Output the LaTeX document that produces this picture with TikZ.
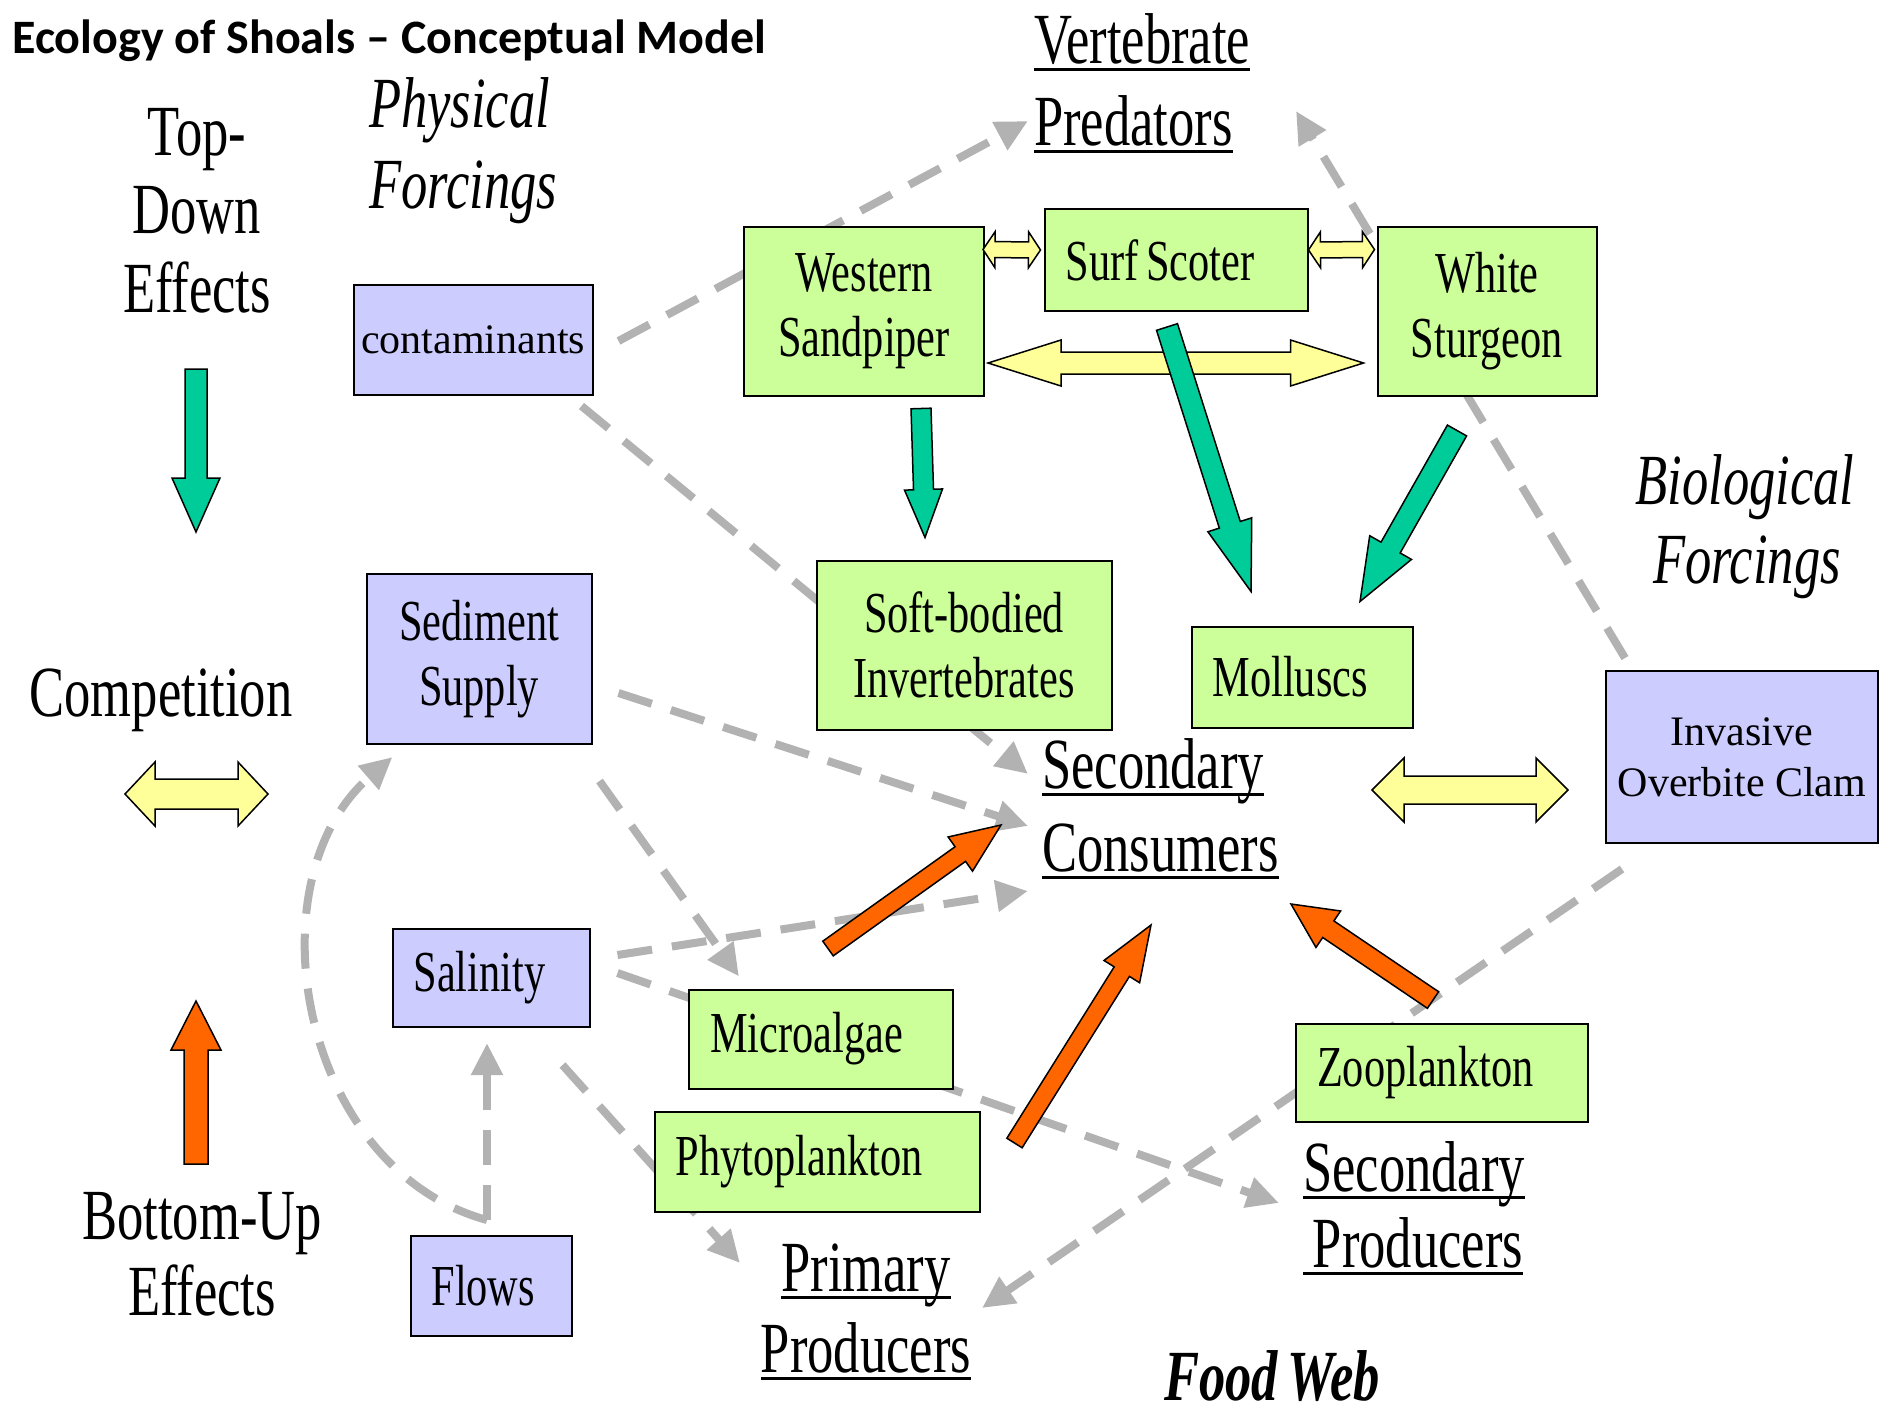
\documentclass[tikz,border=0pt]{standalone}
\usepackage{fontspec}
\setmainfont{Liberation Serif}
\newfontfamily\narrowfont[FakeStretch=0.73, WordSpace=0.73]{Liberation Serif}
\newfontfamily\titlefont{Carlito}
\usetikzlibrary{calc,arrows.meta,backgrounds}

\definecolor{boxgreen}{RGB}{204,255,153}
\definecolor{boxblue}{RGB}{204,204,255}
\definecolor{topgreen}{RGB}{0,204,153}
\definecolor{botorange}{RGB}{255,102,0}
\definecolor{compyellow}{RGB}{255,255,153}
\definecolor{linkgray}{RGB}{178,178,178}

\newcommand{\biglabel}{\narrowfont\fontsize{72}{80}\selectfont}
\newcommand{\boxlabel}{\narrowfont\fontsize{58}{65}\selectfont}
\newcommand{\plainlabel}{\fontsize{42}{51}\selectfont}
\newcommand{\ulword}[1]{\setbox0=\hbox{#1}\rlap{\rule[-8pt]{\wd0}{3pt}}\box0}

% block arrow: fill, start, tip, half shaft, half head, head length
\newcommand{\fatarrow}[6]{%
  \coordinate (fa-s) at #2;
  \coordinate (fa-e) at #3;
  \coordinate (fa-h) at ($(fa-e)!#6!(fa-s)$);
  \draw[fat, fill=#1] ($(fa-s)!#4!90:(fa-e)$) -- ($(fa-h)!#4!90:(fa-e)$)
    -- ($(fa-h)!#5!90:(fa-e)$) -- (fa-e) -- ($(fa-h)!#5!-90:(fa-e)$)
    -- ($(fa-h)!#4!-90:(fa-e)$) -- ($(fa-s)!#4!-90:(fa-e)$) -- cycle;}

% double block arrow, same arguments
\newcommand{\dblarrow}[6]{%
  \coordinate (da-s) at #2;
  \coordinate (da-e) at #3;
  \coordinate (da-hs) at ($(da-s)!#6!(da-e)$);
  \coordinate (da-he) at ($(da-e)!#6!(da-s)$);
  \draw[fat, fill=#1] (da-s) -- ($(da-hs)!#5!90:(da-e)$) -- ($(da-hs)!#4!90:(da-e)$)
    -- ($(da-he)!#4!90:(da-e)$) -- ($(da-he)!#5!90:(da-e)$) -- (da-e)
    -- ($(da-he)!#5!-90:(da-e)$) -- ($(da-he)!#4!-90:(da-e)$)
    -- ($(da-hs)!#4!-90:(da-e)$) -- ($(da-hs)!#5!-90:(da-e)$) -- cycle;}

\begin{document}
\begin{tikzpicture}[x=1pt, y=-1pt,
    gbox/.style={draw, line width=2pt, fill=boxgreen, inner sep=2pt, align=center, font=\boxlabel},
    bbox/.style={draw, line width=2pt, fill=boxblue, inner sep=2pt, align=center, font=\boxlabel},
    lefttext/.style={align=flush left, inner xsep=21pt},
    lbl/.style={inner sep=0pt, font=\biglabel},
    fat/.style={draw=black, line width=1.5pt, line join=miter},
    link/.style={draw=linkgray, line width=8pt, dash pattern=on 35pt off 20pt,
      -{Triangle[length=32pt,width=30pt]}}]
    \useasboundingbox (0,0) rectangle (1896,1414);

    % title
    \node[anchor=base west, inner sep=0pt, font=\titlefont\bfseries\fontsize{48}{52}\selectfont]
      (title) at (12,53) {Ecology of Shoals – Conceptual Model};

    % side labels
    \node[lbl, anchor=base] (td1) at (197,155) {Top-};
    \node[lbl, anchor=base] (td2) at (197,233) {Down};
    \node[lbl, anchor=base] (td3) at (197,312) {Effects};
    \node[lbl, anchor=base] (comp) at (161,716) {Competition};
    \node[lbl, anchor=base] (bu1) at (202,1239) {Bottom-Up};
    \node[lbl, anchor=base] (bu2) at (202,1315) {Effects};
    \node[lbl, font=\biglabel\itshape, anchor=base west] (pf1) at (369,127) {Physical};
    \node[lbl, font=\biglabel\itshape, anchor=base west] (pf2) at (369,208) {Forcings};
    \node[lbl, font=\biglabel\itshape, anchor=base] (bf1) at (1745,504) {Biological};
    \node[lbl, font=\biglabel\itshape, anchor=base] (bf2) at (1747,583) {Forcings};
    \node[lbl, font=\biglabel\bfseries\itshape, anchor=base] (fw) at (1272,1400) {Food Web};

    % trophic levels
    \node[lbl, anchor=base west] (pd1) at (1034,63) {\ulword{Vertebrate}};
    \node[lbl, anchor=base west] (pd2) at (1034,145) {\ulword{Predators}};
    \node[lbl, anchor=base west] (sc1) at (1042,788) {\ulword{Secondary}};
    \node[lbl, anchor=base west] (sc2) at (1042,871) {\ulword{Consumers}};
    \node[lbl, anchor=base west] (sp1) at (1303,1191) {\ulword{Secondary}};
    \node[lbl, anchor=base west] (sp2) at (1303,1267) {\ulword{\ Producers}};
    \node[lbl, anchor=base] (pp1) at (866,1291) {\ulword{Primary}};
    \node[lbl, anchor=base] (pp2) at (866,1372) {\ulword{Producers}};

    % physical forcings
    \node[bbox, font=\plainlabel, minimum width=239pt, minimum height=110pt] (contam) at (473,340) {contaminants};
    \node[bbox, minimum width=225pt, minimum height=170pt] (sediment) at (479,659) {Sediment\\Supply};
    \node[bbox, lefttext, text width=155pt, minimum height=98pt] (salinity) at (491,978) {Salinity};
    \node[bbox, lefttext, text width=119pt, minimum height=100pt] (flows) at (491,1286) {Flows};

    % predators
    \node[gbox, minimum width=240pt, minimum height=169pt] (sandpiper) at (864,311) {Western\\Sandpiper};
    \node[gbox, lefttext, text width=221pt, minimum height=102pt] (scoter) at (1176,260) {Surf Scoter};
    \node[gbox, minimum width=219pt, minimum height=169pt] (sturgeon) at (1487,311) {White\\Sturgeon};

    % consumers
    \node[gbox, minimum width=295pt, minimum height=169pt] (soft) at (964,645) {Soft-bodied\\Invertebrates};
    \node[gbox, lefttext, text width=179pt, minimum height=101pt] (molluscs) at (1302,677) {Molluscs};
    \node[bbox, font=\plainlabel, minimum width=272pt, minimum height=172pt] (clam) at (1742,757) {Invasive\\Overbite Clam};

    % producers
    \node[gbox, lefttext, text width=222pt, minimum height=99pt] (micro) at (821,1039) {Microalgae};
    \node[gbox, lefttext, text width=283pt, minimum height=100pt] (phyto) at (817,1162) {Phytoplankton};
    \node[gbox, lefttext, text width=250pt, minimum height=98pt] (zoo) at (1442,1073) {Zooplankton};

    % legend arrows
    \fatarrow{topgreen}{($(td3.base)+(-1,57)$)}{($(td3.base)+(-1,220)$)}{11pt}{24pt}{54pt}
    \dblarrow{compyellow}{($(comp.base)+(-36,78)$)}{($(comp.base)+(107,78)$)}{15pt}{32pt}{30pt}
    \fatarrow{botorange}{($(bu1.base)+(-6,-75)$)}{($(bu1.base)+(-6,-238)$)}{12pt}{25pt}{49pt}

    % competition
    \dblarrow{compyellow}{($(sandpiper.north east)+(-2,24)$)}{($(scoter.west)+(-3,-10)$)}{8pt}{18pt}{12pt}
    \dblarrow{compyellow}{($(scoter.east)+(0,-10)$)}{($(sturgeon.north west)+(-2,24)$)}{8pt}{18pt}{12pt}
    \dblarrow{compyellow}{($(sandpiper.east)+(3,52)$)}{($(sturgeon.west)+(-13,52)$)}{11pt}{23pt}{73pt}
    \dblarrow{compyellow}{($(sc1.base west)+(330,2)$)}{($(clam.west)+(-37,33)$)}{14pt}{32pt}{32pt}

    % top-down
    \fatarrow{topgreen}{($(sandpiper.south)+(57,12)$)}{($(soft.north)+(-39,-22)$)}{10pt}{19pt}{48pt}
    \fatarrow{topgreen}{($(scoter.south)+(-9,15)$)}{($(molluscs.north)+(-51,-34)$)}{11pt}{23pt}{70pt}
    \fatarrow{topgreen}{($(sturgeon.south)+(-30,34)$)}{($(molluscs.north)+(58,-24)$)}{11pt}{24pt}{62pt}

    % bottom-up
    \fatarrow{botorange}{($(micro.north)+(7,-40)$)}{($(sc2.base west)+(-41,-46)$)}{9pt}{21pt}{50pt}
    \fatarrow{botorange}{($(phyto.east)+(34,-19)$)}{($(sc2.base west)+(109,54)$)}{9pt}{21pt}{55pt}
    \fatarrow{botorange}{($(zoo.north)+(-9,-23)$)}{($(sc2.base west)+(249,33)$)}{10pt}{22pt}{45pt}

    % forcing links, behind the boxes
    \begin{scope}[on background layer]
        \fill[white] (0,0) rectangle (1896,1414);
        \draw[link] ($(contam.east)+(25,1)$) -- ($(pd2.base west)+(-6,-24)$);
        \draw[link] ($(contam.south east)+(-12,10)$) -- ($(sc1.base west)+(-14,-14)$);
        \draw[link] ($(sediment.east)+(26,34)$) -- ($(sc2.base west)+(-14,-45)$);
        \draw[link] ($(sediment.south east)+(7,36)$) -- ($(micro.north west)+(51,-12)$);
        \draw[link] ($(salinity.east)+(27,-23)$) -- ($(sc2.base west)+(-14,20)$);
        \draw[link] ($(salinity.east)+(27,-5)$) -- ($(sp1.base west)+(-24,12)$);
        \draw[link] ($(salinity.south east)+(-28,37)$) -- ($(pp1.base)+(-126,-28)$);
        \draw[link] ($(flows.north)+(-4,-15)$) -- ($(salinity.south)+(-4,15)$);
        \draw[link] ($(flows.north)+(-4,-15)$) .. controls +(-187,-51) and +(-143,124) .. ($(sediment.south west)+(27,12)$);
        \draw[link] ($(clam.south west)+(17,25)$) -- ($(pp1.base)+(116,17)$);
        \draw[link] ($(clam.north west)+(20,-12)$) -- ($(pd2.base west)+(262,-34)$);
    \end{scope}
\end{tikzpicture}
\end{document}
